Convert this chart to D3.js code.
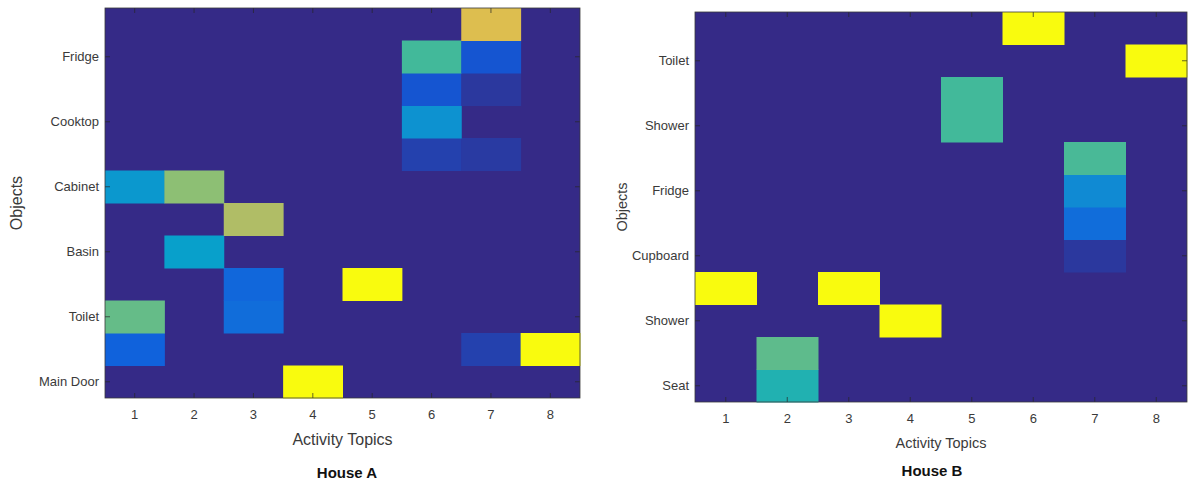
<!DOCTYPE html>
<html>
<head>
<meta charset="utf-8">
<script src="https://cdn.jsdelivr.net/npm/d3@7"></script>
<style>
  body { margin: 0; background: #fff; }
  svg { display: block; font-family: "Liberation Sans", Arial, sans-serif; }
  .tick text { fill: #3a3a3a; }
  .tick line { stroke: #262626; stroke-width: 0.7; }
</style>
</head>
<body>
<svg width="1191" height="485"></svg>
<script>
// activity topics along x
const topics = [1, 2, 3, 4, 5, 6, 7, 8];
// object rows, bottom to top (only every other row carries a label)
const rows = [0, 1, 2, 3, 4, 5, 6, 7, 8, 9, 10, 11];
const houseALabels = ['Main Door', '', 'Toilet', '', 'Basin', '', 'Cabinet', '', 'Cooktop', '', 'Fridge', ''];
const houseBLabels = ['Seat', '', 'Shower', '', 'Cupboard', '', 'Fridge', '', 'Shower', '', 'Toilet', ''];

// normalised weights, one row per object row (bottom first), one value per topic
const houseA = [
  [0, 0, 0, 1, 0, 0, 0, 0],
  [0.13, 0, 0, 0, 0, 0, 0.05, 1],
  [0.57, 0, 0.17, 0, 0, 0, 0, 0],
  [0, 0, 0.15, 0, 1, 0, 0, 0],
  [0, 0.35, 0, 0, 0, 0, 0, 0],
  [0, 0, 0.69, 0, 0, 0, 0, 0],
  [0.32, 0.63, 0, 0, 0, 0, 0, 0],
  [0, 0, 0, 0, 0, 0.05, 0.035, 0],
  [0, 0, 0, 0, 0, 0.3, 0, 0],
  [0, 0, 0, 0, 0, 0.095, 0.03, 0],
  [0, 0, 0, 0, 0, 0.52, 0.095, 0],
  [0, 0, 0, 0, 0, 0, 0.78, 0],
];
const houseB = [
  [0, 0.45, 0, 0, 0, 0, 0, 0],
  [0, 0.56, 0, 0, 0, 0, 0, 0],
  [0, 0, 0, 1, 0, 0, 0, 0],
  [1, 0, 1, 0, 0, 0, 0, 0],
  [0, 0, 0, 0, 0, 0, 0.03, 0],
  [0, 0, 0, 0, 0, 0, 0.17, 0],
  [0, 0, 0, 0, 0, 0, 0.27, 0],
  [0, 0, 0, 0, 0, 0, 0.53, 0],
  [0, 0, 0, 0, 0.52, 0, 0, 0],
  [0, 0, 0, 0, 0.52, 0, 0, 0],
  [0, 0, 0, 0, 0, 0, 0, 1],
  [0, 0, 0, 0, 0, 1, 0, 0],
];

// parula-like colormap
const color = d3
  .scaleLinear()
  .domain([0, 7 / 63, 15 / 63, 23 / 63, 31 / 63, 39 / 63, 47 / 63, 55 / 63, 1])
  .range(['#352a87', '#0f5cdd', '#1481d6', '#06a4ca', '#2eb7a4', '#87bf77', '#d1bb59', '#fec832', '#f9fb0e'])
  .interpolate(d3.interpolateRgb);

const svg = d3.select('svg');
svg.append('rect').attr('width', 1191).attr('height', 485).attr('fill', '#fff');

function heatmap(cfg) {
  const x = d3
    .scaleBand()
    .domain(topics)
    .range([cfg.left, cfg.right]);

  const y = d3
    .scaleBand()
    .domain(rows)
    .range([cfg.bottom, cfg.top]);

  const g = svg.append('g');

  // background = zero colour
  g.append('rect')
    .attr('x', cfg.left)
    .attr('y', cfg.top)
    .attr('width', cfg.right - cfg.left)
    .attr('height', cfg.bottom - cfg.top)
    .attr('fill', color(0));

  const cells = [];
  cfg.values.forEach((row, r) => row.forEach((v, c) => cells.push({ r, t: topics[c], v })));

  g.selectAll('rect.cell')
    .data(cells.filter(d => d.v > 0))
    .enter()
    .append('rect')
    .attr('class', 'cell')
    .attr('x', d => x(d.t))
    .attr('y', d => y(d.r))
    .attr('width', x.bandwidth() + 0.5)
    .attr('height', y.bandwidth() + 0.5)
    .attr('fill', d => color(d.v));

  const labelled = rows.filter(r => cfg.labels[r] !== '');

  // axes, MATLAB style: ticks pointing in, mirrored on top/right
  g.append('g')
    .attr('transform', `translate(0,${cfg.bottom})`)
    .call(d3.axisBottom(x).tickSizeInner(-5).tickSizeOuter(0).tickPadding(12))
    .call(a => a.select('.domain').remove())
    .selectAll('text')
    .attr('font-size', 13);

  g.append('g')
    .attr('transform', `translate(0,${cfg.top})`)
    .call(d3.axisTop(x).tickSizeInner(-5).tickSizeOuter(0).tickFormat(''))
    .call(a => a.select('.domain').remove());

  g.append('g')
    .attr('transform', `translate(${cfg.left},0)`)
    .call(
      d3.axisLeft(y)
        .tickValues(labelled)
        .tickFormat(r => cfg.labels[r])
        .tickSizeInner(-5)
        .tickSizeOuter(0)
        .tickPadding(6)
    )
    .call(a => a.select('.domain').remove())
    .selectAll('text')
    .attr('font-size', 13);

  g.append('g')
    .attr('transform', `translate(${cfg.right},0)`)
    .call(d3.axisRight(y).tickValues(labelled).tickSizeInner(-5).tickSizeOuter(0).tickFormat(''))
    .call(a => a.select('.domain').remove());

  // box
  g.append('rect')
    .attr('x', cfg.left)
    .attr('y', cfg.top)
    .attr('width', cfg.right - cfg.left)
    .attr('height', cfg.bottom - cfg.top)
    .attr('fill', 'none')
    .attr('stroke', '#3a3a3a')
    .attr('stroke-width', 0.8);

  const cx = (cfg.left + cfg.right) / 2;
  const cy = (cfg.top + cfg.bottom) / 2;

  g.append('text')
    .attr('x', cx)
    .attr('y', cfg.bottom + cfg.xlabelGap)
    .attr('text-anchor', 'middle')
    .attr('font-size', cfg.labelSize)
    .attr('fill', '#3a3a3a')
    .text('Activity Topics');

  g.append('text')
    .attr('transform', `translate(${cfg.ylabelX},${cy}) rotate(-90)`)
    .attr('text-anchor', 'middle')
    .attr('font-size', cfg.labelSize)
    .attr('fill', '#3a3a3a')
    .text('Objects');

  g.append('text')
    .attr('x', cfg.titleX)
    .attr('y', cfg.titleY)
    .attr('text-anchor', 'middle')
    .attr('font-size', 15)
    .attr('font-weight', 'bold')
    .attr('fill', '#111')
    .text(cfg.title);
}

heatmap({
  values: houseA,
  labels: houseALabels,
  left: 105,
  right: 580,
  top: 8,
  bottom: 398,
  xlabelGap: 47,
  ylabelX: 22,
  labelSize: 16,
  titleX: 347,
  titleY: 478,
  title: 'House A',
});

heatmap({
  values: houseB,
  labels: houseBLabels,
  left: 695,
  right: 1187,
  top: 12,
  bottom: 402,
  xlabelGap: 46,
  ylabelX: 627,
  labelSize: 14.5,
  titleX: 932,
  titleY: 476,
  title: 'House B',
});
</script>
</body>
</html>
